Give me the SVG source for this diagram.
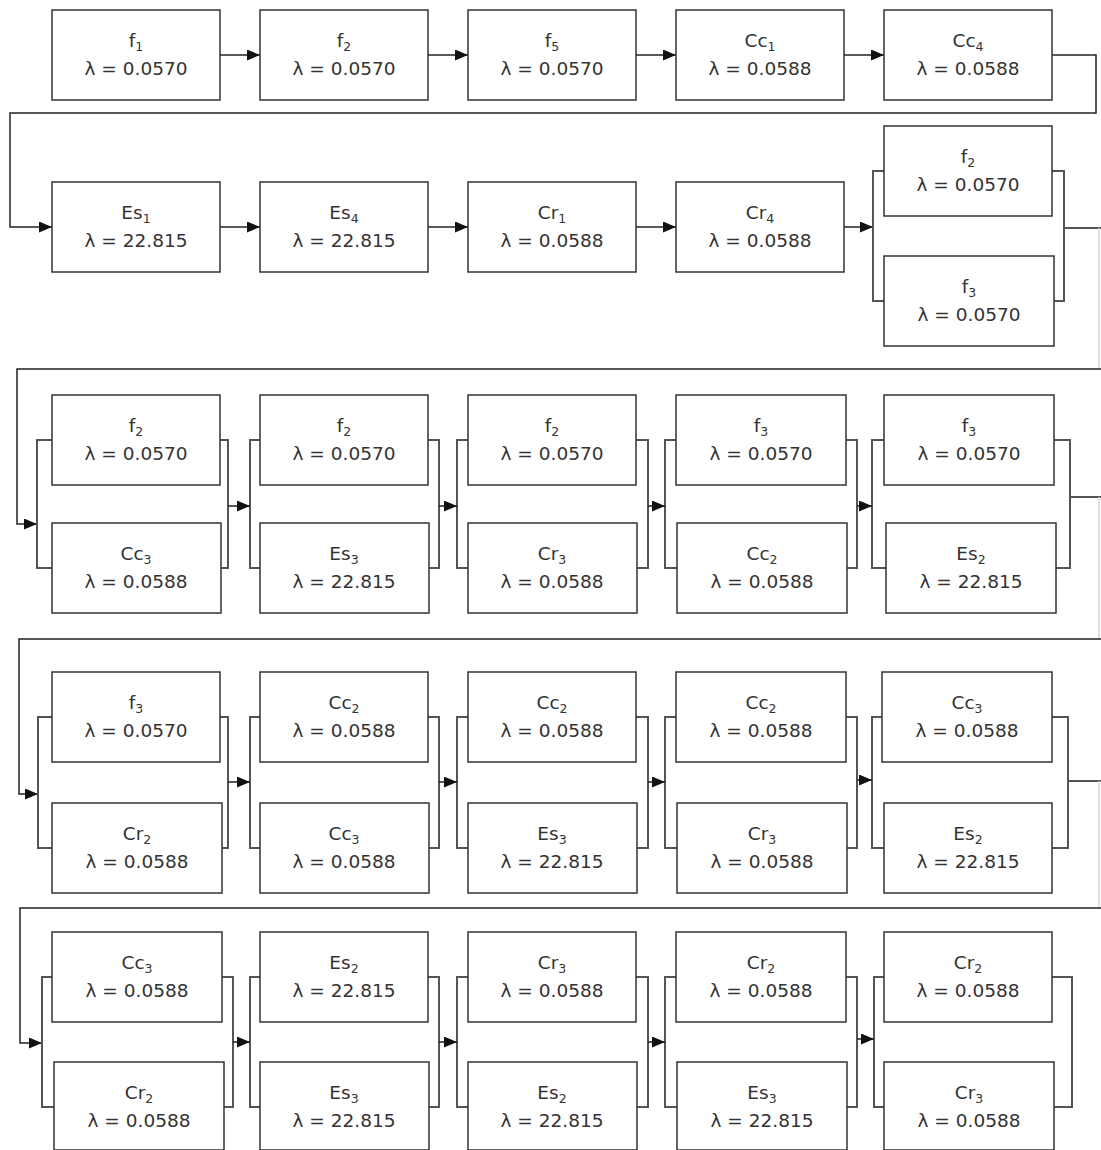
<svg xmlns="http://www.w3.org/2000/svg" width="1101" height="1150" viewBox="0 0 1101 1150">
<style>
.box{fill:#fff;stroke:#333;stroke-width:1.5}
.lbl{font-family:"DejaVu Sans",sans-serif;font-size:18.5px;fill:#333;text-anchor:middle}
.sub{font-size:12.5px}
.wire{fill:none;stroke:#222;stroke-width:1.5}
.br{fill:none;stroke:#555;stroke-width:2}
.edge{fill:none;stroke:#d6d6d6;stroke-width:1.5}
</style>
<defs>
<marker id="arr" markerUnits="userSpaceOnUse" markerWidth="13" markerHeight="11" refX="13" refY="5.5" orient="auto">
<path d="M0,0 L13,5.5 L0,11 z" fill="#111"/>
</marker>
</defs>
<rect width="1101" height="1150" fill="#fff"/>

<g id="connectors">
<path class="wire" d="M220,55 H260" marker-end="url(#arr)"/>
<path class="wire" d="M428,55 H468" marker-end="url(#arr)"/>
<path class="wire" d="M636,55 H676" marker-end="url(#arr)"/>
<path class="wire" d="M844,55 H884" marker-end="url(#arr)"/>
<path class="wire" d="M1052,55 H1096 V113 H10 V227 H52" marker-end="url(#arr)"/>
<path class="wire" d="M220,227 H260" marker-end="url(#arr)"/>
<path class="wire" d="M428,227 H468" marker-end="url(#arr)"/>
<path class="wire" d="M636,227 H676" marker-end="url(#arr)"/>
<path class="wire" d="M844,227 H873" marker-end="url(#arr)"/>
<path class="br" d="M884,171 H873 V301 H884"/>
<path class="br" d="M1052,171 H1064 V301 H1054"/>
<path class="br" d="M1064,228 H1101"/>
<path class="edge" d="M1099,228 V369"/>
<path class="wire" d="M1101,369 H17 V524 H37" marker-end="url(#arr)"/>
<path class="br" d="M52,440 H37 V568 H52"/>
<path class="br" d="M220,440 H228 V568 H221"/>
<path class="br" d="M260,440 H250 V568 H260"/>
<path class="br" d="M428,440 H439 V568 H429"/>
<path class="br" d="M468,440 H457 V568 H468"/>
<path class="br" d="M636,440 H648 V568 H637"/>
<path class="br" d="M676,440 H665 V568 H677"/>
<path class="br" d="M844,440 H857 V568 H847"/>
<path class="br" d="M884,440 H872 V568 H886"/>
<path class="br" d="M1052,440 H1070 V568 H1054"/>
<path class="wire" d="M228,506 H250" marker-end="url(#arr)"/>
<path class="wire" d="M439,506 H457" marker-end="url(#arr)"/>
<path class="wire" d="M648,506 H665" marker-end="url(#arr)"/>
<path class="wire" d="M857,506 H872" marker-end="url(#arr)"/>
<path class="br" d="M1070,497 H1101"/>
<path class="edge" d="M1099,497 V639"/>
<path class="wire" d="M1101,639 H19 V794 H38" marker-end="url(#arr)"/>
<path class="br" d="M52,717 H38 V848 H52"/>
<path class="br" d="M220,717 H228 V848 H222"/>
<path class="br" d="M260,717 H250 V848 H260"/>
<path class="br" d="M428,717 H439 V848 H429"/>
<path class="br" d="M468,717 H457 V848 H468"/>
<path class="br" d="M636,717 H648 V848 H637"/>
<path class="br" d="M676,717 H665 V848 H677"/>
<path class="br" d="M844,717 H857 V848 H847"/>
<path class="br" d="M882,717 H872 V848 H884"/>
<path class="br" d="M1052,717 H1068 V848 H1052"/>
<path class="wire" d="M228,782 H250" marker-end="url(#arr)"/>
<path class="wire" d="M439,782 H457" marker-end="url(#arr)"/>
<path class="wire" d="M648,782 H665" marker-end="url(#arr)"/>
<path class="wire" d="M857,780 H872" marker-end="url(#arr)"/>
<path class="br" d="M1068,781 H1101"/>
<path class="edge" d="M1099,781 V908"/>
<path class="wire" d="M1101,908 H20 V1043 H42" marker-end="url(#arr)"/>
<path class="br" d="M52,977 H42 V1107 H54"/>
<path class="br" d="M222,977 H233 V1107 H224"/>
<path class="br" d="M260,977 H250 V1107 H260"/>
<path class="br" d="M428,977 H439 V1107 H429"/>
<path class="br" d="M468,977 H457 V1107 H468"/>
<path class="br" d="M636,977 H648 V1107 H637"/>
<path class="br" d="M676,977 H665 V1107 H677"/>
<path class="br" d="M844,977 H857 V1107 H847"/>
<path class="br" d="M884,977 H874 V1107 H884"/>
<path class="br" d="M1052,977 H1072 V1107 H1054"/>
<path class="wire" d="M233,1042 H250" marker-end="url(#arr)"/>
<path class="wire" d="M439,1042 H457" marker-end="url(#arr)"/>
<path class="wire" d="M648,1042 H665" marker-end="url(#arr)"/>
<path class="wire" d="M857,1039 H874" marker-end="url(#arr)"/>
</g>

<g id="r1c1"><rect class="box" x="52" y="10" width="168" height="90"/><text class="lbl" x="136" y="47">f<tspan class="sub" dy="4">1</tspan></text><text class="lbl" x="136" y="75">λ = 0.0570</text></g>
<g id="r1c2"><rect class="box" x="260" y="10" width="168" height="90"/><text class="lbl" x="344" y="47">f<tspan class="sub" dy="4">2</tspan></text><text class="lbl" x="344" y="75">λ = 0.0570</text></g>
<g id="r1c3"><rect class="box" x="468" y="10" width="168" height="90"/><text class="lbl" x="552" y="47">f<tspan class="sub" dy="4">5</tspan></text><text class="lbl" x="552" y="75">λ = 0.0570</text></g>
<g id="r1c4"><rect class="box" x="676" y="10" width="168" height="90"/><text class="lbl" x="760" y="47">Cc<tspan class="sub" dy="4">1</tspan></text><text class="lbl" x="760" y="75">λ = 0.0588</text></g>
<g id="r1c5"><rect class="box" x="884" y="10" width="168" height="90"/><text class="lbl" x="968" y="47">Cc<tspan class="sub" dy="4">4</tspan></text><text class="lbl" x="968" y="75">λ = 0.0588</text></g>

<g id="r2c1"><rect class="box" x="52" y="182" width="168" height="90"/><text class="lbl" x="136" y="219">Es<tspan class="sub" dy="4">1</tspan></text><text class="lbl" x="136" y="247">λ = 22.815</text></g>
<g id="r2c2"><rect class="box" x="260" y="182" width="168" height="90"/><text class="lbl" x="344" y="219">Es<tspan class="sub" dy="4">4</tspan></text><text class="lbl" x="344" y="247">λ = 22.815</text></g>
<g id="r2c3"><rect class="box" x="468" y="182" width="168" height="90"/><text class="lbl" x="552" y="219">Cr<tspan class="sub" dy="4">1</tspan></text><text class="lbl" x="552" y="247">λ = 0.0588</text></g>
<g id="r2c4"><rect class="box" x="676" y="182" width="168" height="90"/><text class="lbl" x="760" y="219">Cr<tspan class="sub" dy="4">4</tspan></text><text class="lbl" x="760" y="247">λ = 0.0588</text></g>
<g id="r2c5a"><rect class="box" x="884" y="126" width="168" height="90"/><text class="lbl" x="968" y="163">f<tspan class="sub" dy="4">2</tspan></text><text class="lbl" x="968" y="191">λ = 0.0570</text></g>
<g id="r2c5b"><rect class="box" x="884" y="256" width="170" height="90"/><text class="lbl" x="969" y="293">f<tspan class="sub" dy="4">3</tspan></text><text class="lbl" x="969" y="321">λ = 0.0570</text></g>

<g id="r3c1a"><rect class="box" x="52" y="395" width="168" height="90"/><text class="lbl" x="136" y="432">f<tspan class="sub" dy="4">2</tspan></text><text class="lbl" x="136" y="460">λ = 0.0570</text></g>
<g id="r3c1b"><rect class="box" x="52" y="523" width="169" height="90"/><text class="lbl" x="136" y="560">Cc<tspan class="sub" dy="4">3</tspan></text><text class="lbl" x="136" y="588">λ = 0.0588</text></g>
<g id="r3c2a"><rect class="box" x="260" y="395" width="168" height="90"/><text class="lbl" x="344" y="432">f<tspan class="sub" dy="4">2</tspan></text><text class="lbl" x="344" y="460">λ = 0.0570</text></g>
<g id="r3c2b"><rect class="box" x="260" y="523" width="169" height="90"/><text class="lbl" x="344" y="560">Es<tspan class="sub" dy="4">3</tspan></text><text class="lbl" x="344" y="588">λ = 22.815</text></g>
<g id="r3c3a"><rect class="box" x="468" y="395" width="168" height="90"/><text class="lbl" x="552" y="432">f<tspan class="sub" dy="4">2</tspan></text><text class="lbl" x="552" y="460">λ = 0.0570</text></g>
<g id="r3c3b"><rect class="box" x="468" y="523" width="169" height="90"/><text class="lbl" x="552" y="560">Cr<tspan class="sub" dy="4">3</tspan></text><text class="lbl" x="552" y="588">λ = 0.0588</text></g>
<g id="r3c4a"><rect class="box" x="676" y="395" width="170" height="90"/><text class="lbl" x="761" y="432">f<tspan class="sub" dy="4">3</tspan></text><text class="lbl" x="761" y="460">λ = 0.0570</text></g>
<g id="r3c4b"><rect class="box" x="677" y="523" width="170" height="90"/><text class="lbl" x="762" y="560">Cc<tspan class="sub" dy="4">2</tspan></text><text class="lbl" x="762" y="588">λ = 0.0588</text></g>
<g id="r3c5a"><rect class="box" x="884" y="395" width="170" height="90"/><text class="lbl" x="969" y="432">f<tspan class="sub" dy="4">3</tspan></text><text class="lbl" x="969" y="460">λ = 0.0570</text></g>
<g id="r3c5b"><rect class="box" x="886" y="523" width="170" height="90"/><text class="lbl" x="971" y="560">Es<tspan class="sub" dy="4">2</tspan></text><text class="lbl" x="971" y="588">λ = 22.815</text></g>

<g id="r4c1a"><rect class="box" x="52" y="672" width="168" height="90"/><text class="lbl" x="136" y="709">f<tspan class="sub" dy="4">3</tspan></text><text class="lbl" x="136" y="737">λ = 0.0570</text></g>
<g id="r4c1b"><rect class="box" x="52" y="803" width="170" height="90"/><text class="lbl" x="137" y="840">Cr<tspan class="sub" dy="4">2</tspan></text><text class="lbl" x="137" y="868">λ = 0.0588</text></g>
<g id="r4c2a"><rect class="box" x="260" y="672" width="168" height="90"/><text class="lbl" x="344" y="709">Cc<tspan class="sub" dy="4">2</tspan></text><text class="lbl" x="344" y="737">λ = 0.0588</text></g>
<g id="r4c2b"><rect class="box" x="260" y="803" width="169" height="90"/><text class="lbl" x="344" y="840">Cc<tspan class="sub" dy="4">3</tspan></text><text class="lbl" x="344" y="868">λ = 0.0588</text></g>
<g id="r4c3a"><rect class="box" x="468" y="672" width="168" height="90"/><text class="lbl" x="552" y="709">Cc<tspan class="sub" dy="4">2</tspan></text><text class="lbl" x="552" y="737">λ = 0.0588</text></g>
<g id="r4c3b"><rect class="box" x="468" y="803" width="169" height="90"/><text class="lbl" x="552" y="840">Es<tspan class="sub" dy="4">3</tspan></text><text class="lbl" x="552" y="868">λ = 22.815</text></g>
<g id="r4c4a"><rect class="box" x="676" y="672" width="170" height="90"/><text class="lbl" x="761" y="709">Cc<tspan class="sub" dy="4">2</tspan></text><text class="lbl" x="761" y="737">λ = 0.0588</text></g>
<g id="r4c4b"><rect class="box" x="677" y="803" width="170" height="90"/><text class="lbl" x="762" y="840">Cr<tspan class="sub" dy="4">3</tspan></text><text class="lbl" x="762" y="868">λ = 0.0588</text></g>
<g id="r4c5a"><rect class="box" x="882" y="672" width="170" height="90"/><text class="lbl" x="967" y="709">Cc<tspan class="sub" dy="4">3</tspan></text><text class="lbl" x="967" y="737">λ = 0.0588</text></g>
<g id="r4c5b"><rect class="box" x="884" y="803" width="168" height="90"/><text class="lbl" x="968" y="840">Es<tspan class="sub" dy="4">2</tspan></text><text class="lbl" x="968" y="868">λ = 22.815</text></g>

<g id="r5c1a"><rect class="box" x="52" y="932" width="170" height="90"/><text class="lbl" x="137" y="969">Cc<tspan class="sub" dy="4">3</tspan></text><text class="lbl" x="137" y="997">λ = 0.0588</text></g>
<g id="r5c1b"><rect class="box" x="54" y="1062" width="170" height="88"/><text class="lbl" x="139" y="1099">Cr<tspan class="sub" dy="4">2</tspan></text><text class="lbl" x="139" y="1127">λ = 0.0588</text></g>
<g id="r5c2a"><rect class="box" x="260" y="932" width="168" height="90"/><text class="lbl" x="344" y="969">Es<tspan class="sub" dy="4">2</tspan></text><text class="lbl" x="344" y="997">λ = 22.815</text></g>
<g id="r5c2b"><rect class="box" x="260" y="1062" width="169" height="88"/><text class="lbl" x="344" y="1099">Es<tspan class="sub" dy="4">3</tspan></text><text class="lbl" x="344" y="1127">λ = 22.815</text></g>
<g id="r5c3a"><rect class="box" x="468" y="932" width="168" height="90"/><text class="lbl" x="552" y="969">Cr<tspan class="sub" dy="4">3</tspan></text><text class="lbl" x="552" y="997">λ = 0.0588</text></g>
<g id="r5c3b"><rect class="box" x="468" y="1062" width="169" height="88"/><text class="lbl" x="552" y="1099">Es<tspan class="sub" dy="4">2</tspan></text><text class="lbl" x="552" y="1127">λ = 22.815</text></g>
<g id="r5c4a"><rect class="box" x="676" y="932" width="170" height="90"/><text class="lbl" x="761" y="969">Cr<tspan class="sub" dy="4">2</tspan></text><text class="lbl" x="761" y="997">λ = 0.0588</text></g>
<g id="r5c4b"><rect class="box" x="677" y="1062" width="170" height="88"/><text class="lbl" x="762" y="1099">Es<tspan class="sub" dy="4">3</tspan></text><text class="lbl" x="762" y="1127">λ = 22.815</text></g>
<g id="r5c5a"><rect class="box" x="884" y="932" width="168" height="90"/><text class="lbl" x="968" y="969">Cr<tspan class="sub" dy="4">2</tspan></text><text class="lbl" x="968" y="997">λ = 0.0588</text></g>
<g id="r5c5b"><rect class="box" x="884" y="1062" width="170" height="88"/><text class="lbl" x="969" y="1099">Cr<tspan class="sub" dy="4">3</tspan></text><text class="lbl" x="969" y="1127">λ = 0.0588</text></g>
</svg>
